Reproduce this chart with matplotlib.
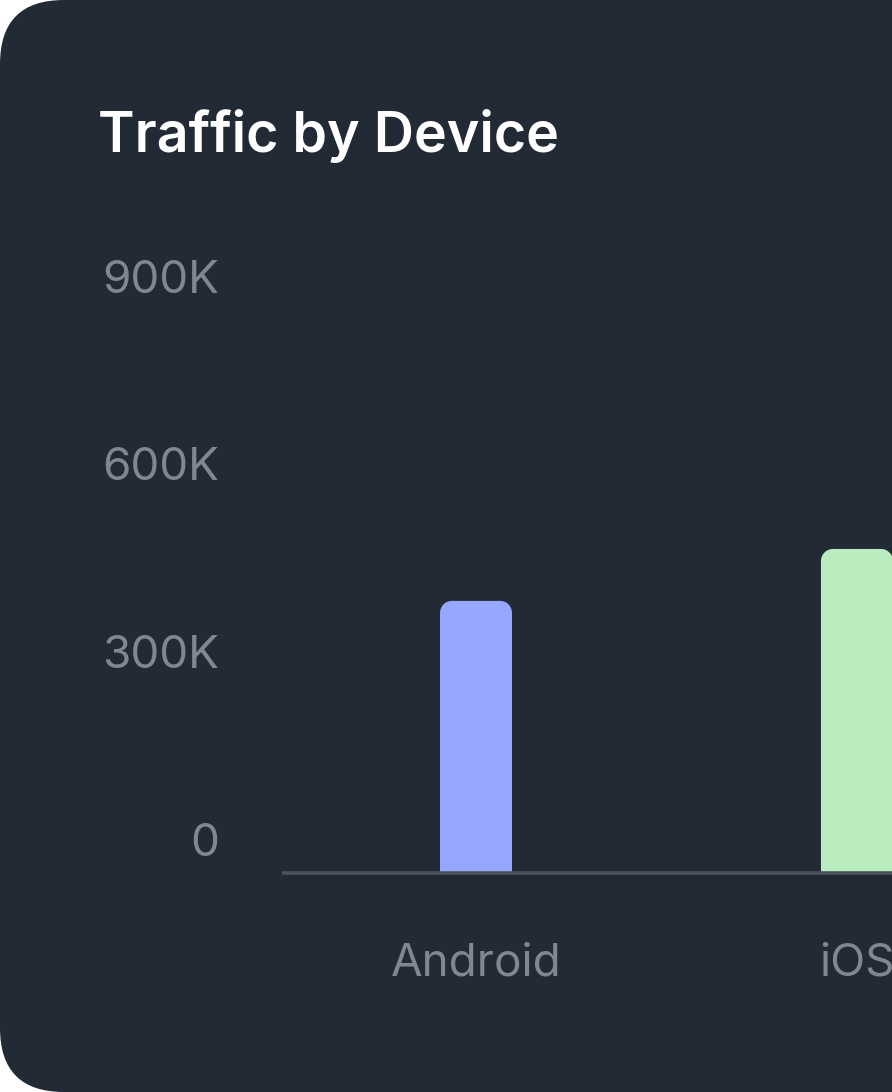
import matplotlib
matplotlib.use("Agg")
import matplotlib.pyplot as plt
from matplotlib.patches import FancyBboxPatch, PathPatch
from matplotlib.path import Path
from matplotlib.transforms import IdentityTransform, ScaledTranslation

categories = ["Android", "iOS"]
values = [435000, 518000]
bar_colors = ["#97a6ff", "#b9edc0"]
ytick_values = [0, 300000, 600000, 900000]
ytick_labels = ["0", "300K", "600K", "900K"]
title = "Traffic by Device"

W, H = 892, 1092
DPI = 100
BG = "#212a35"
TXT = "#80878f"
AXC = "#4a535d"

fig = plt.figure(figsize=(W / DPI, H / DPI), dpi=DPI)
fig.patch.set_facecolor("white")

card = FancyBboxPatch((0, 0), W + 300, H, boxstyle="round,pad=0,rounding_size=64",
                      transform=IdentityTransform(), facecolor=BG, edgecolor="none", zorder=0)
fig.add_artist(card)

# axes geometry in pixels
ax_left, ax_right = 284, W
ax_bottom_px = H - 873
ax_top_px = H - 310
ax = fig.add_axes([ax_left / W, ax_bottom_px / H, (ax_right - ax_left) / W, (ax_top_px - ax_bottom_px) / H])
ax.set_facecolor("none")

x = list(range(len(categories)))
bars = ax.bar(x, values, width=0.189, color=bar_colors, zorder=2)
ax.set_xlim(-0.504, 1.092)
ax.set_ylim(0, 900000)

for s in ["top", "right", "left"]:
    ax.spines[s].set_visible(False)
ax.spines["bottom"].set_color(AXC)
ax.spines["bottom"].set_linewidth(2.6)
ax.spines["bottom"].set_zorder(3)

ax.set_yticks(ytick_values)
ax.set_yticklabels(ytick_labels)
ax.set_xticks(x)
ax.set_xticklabels(categories)
ax.tick_params(axis="both", length=0, colors=TXT)
ax.tick_params(axis="y", pad=47)
ax.tick_params(axis="x", pad=50)
for lab in ax.get_yticklabels() + ax.get_xticklabels():
    lab.set_fontfamily("Inter")
    lab.set_fontweight("normal")
    lab.set_fontsize(33)
    lab.set_color(TXT)

off = ScaledTranslation(0, 0.34, fig.dpi_scale_trans)
for lab in ax.get_yticklabels():
    lab.set_transform(lab.get_transform() + off)

fig.text(98 / W, 1 - 136 / H, title, fontfamily="Inter", fontweight="semibold",
         fontsize=40, color="white", ha="left", va="center")

# rounded tops for bars, based on bar geometry from the axes transform
fig.canvas.draw()
r = 12
for b in bars:
    bb = b.get_window_extent()
    x0, x1, y0, y1 = bb.x0, bb.x1, bb.y0, bb.y1
    k = 0.5523 * r
    verts = [(x0, y0), (x0, y1 - r), (x0, y1 - r + k), (x0 + r - k, y1), (x0 + r, y1),
             (x1 - r, y1), (x1 - r + k, y1), (x1, y1 - r + k), (x1, y1 - r), (x1, y0), (x0, y0)]
    codes = [Path.MOVETO, Path.LINETO, Path.CURVE4, Path.CURVE4, Path.CURVE4,
             Path.LINETO, Path.CURVE4, Path.CURVE4, Path.CURVE4, Path.LINETO, Path.CLOSEPOLY]
    pp = PathPatch(Path(verts, codes), facecolor=b.get_facecolor(), edgecolor="none",
                   transform=IdentityTransform(), zorder=2)
    ax.add_artist(pp)
    pp.set_clip_path(ax.patch)
    b.set_visible(False)

fig.savefig("out.png", dpi=DPI, facecolor=fig.get_facecolor())
